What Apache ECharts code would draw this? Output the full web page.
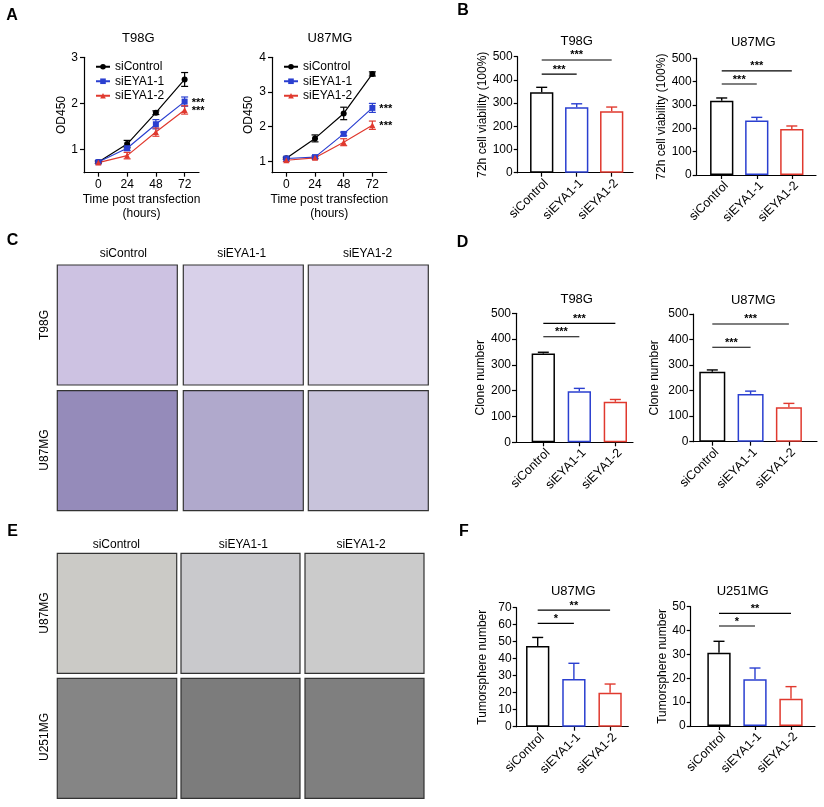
<!DOCTYPE html>
<html>
<head>
<meta charset="utf-8">
<script src="https://cdn.jsdelivr.net/npm/echarts@6/dist/echarts.min.js"></script>
<style>html,body{margin:0;padding:0;background:#fff;}#c{width:824px;height:807px;}</style>
</head>
<body>
<div id="c"></div>
<script>
// ---------- DATA ----------
const groups = ['siControl', 'siEYA1-1', 'siEYA1-2'];
const timeLabels = ['0', '24', '48', '72'];
// Panel A (OD450)
const aT98G_control = [0.73, 1.12, 1.80, 2.52];
const aT98G_controlErr = [0.03, 0.08, 0.04, 0.15];
const aT98G_eya1 = [0.73, 1.03, 1.55, 2.04];
const aT98G_eya1Err = [0.02, 0.05, 0.10, 0.10];
const aT98G_eya2 = [0.72, 0.87, 1.38, 1.86];
const aT98G_eya2Err = [0.02, 0.07, 0.09, 0.09];
const aU87_control = [1.09, 1.66, 2.38, 3.52];
const aU87_controlErr = [0.03, 0.10, 0.18, 0.06];
const aU87_eya1 = [1.08, 1.12, 1.79, 2.54];
const aU87_eya1Err = [0.03, 0.04, 0.05, 0.13];
const aU87_eya2 = [1.03, 1.10, 1.55, 2.04];
const aU87_eya2Err = [0.04, 0.03, 0.10, 0.12];
// Panel B (72h cell viability)
const bT98G = [347, 282, 265];
const bT98GErr = [21, 15, 18];
const bU87 = [318, 233, 197];
const bU87Err = [12, 14, 13];
// Panel D (clone number)
const dT98G = [344, 198, 157];
const dT98GErr = [5, 11, 9];
const dU87 = [274, 187, 135];
const dU87Err = [7, 11, 15];
// Panel F (tumorsphere number)
const fU87 = [47.5, 28, 20];
const fU87Err = [5, 9.3, 5.1];
const fU251 = [30.7, 19.6, 11.4];
const fU251Err = [4.8, 4.7, 5.1];
// significance brackets: [from, to, y, label]
const sigB1 = [[0, 2, 486, '***'], [0, 1, 425, '***']];
const sigB2 = [[0, 2, 446, '***'], [0, 1, 390, '***']];
const sigD1 = [[0, 2, 461, '***'], [0, 1, 409, '***']];
const sigD2 = [[0, 2, 461, '***'], [0, 1, 370, '***']];
const sigF1 = [[0, 2, 68.6, '**'], [0, 1, 60.8, '*']];
const sigF2 = [[0, 2, 47.2, '**'], [0, 1, 41.9, '*']];
// ---------- STYLE ----------
const FONT = 'Liberation Sans, Arial, sans-serif';
const colors = ['#000000', '#2a3fd0', '#e0392e'];
const symbols = ['circle', 'rect', 'triangle'];

const grids = [], xAxes = [], yAxes = [], series = [];
const axisLineStyle = { show: true, onZero: false, lineStyle: { color: '#000', width: 1.2 } };
const tickStyle = { show: true, length: 4, lineStyle: { color: '#000', width: 1.2 } };

function errLine(gi) {
  return {
    type: 'custom', xAxisIndex: gi, yAxisIndex: gi, clip: false, z: 3,
    renderItem: function (params, api) {
      const x = api.value(0), m = api.value(1), e = api.value(2);
      const c = api.visual('color');
      const pT = api.coord([x, m + e]), pB = api.coord([x, m - e]);
      const s = { stroke: c, lineWidth: 1.2 };
      return { type: 'group', children: [
        { type: 'line', shape: { x1: pT[0], y1: pT[1], x2: pB[0], y2: pB[1] }, style: s },
        { type: 'line', shape: { x1: pT[0] - 3.5, y1: pT[1], x2: pT[0] + 3.5, y2: pT[1] }, style: s },
        { type: 'line', shape: { x1: pB[0] - 3.5, y1: pB[1], x2: pB[0] + 3.5, y2: pB[1] }, style: s }
      ]};
    }
  };
}

function linePanel(gi, grid, yMin, yMax, yTicks, yNameGap, data, errs, stars) {
  grids.push(grid);
  xAxes.push({ gridIndex: gi, type: 'category', data: timeLabels, boundaryGap: true,
    axisLine: axisLineStyle, axisTick: Object.assign({ alignWithLabel: true }, tickStyle),
    axisLabel: { color: '#000', fontSize: 12, fontFamily: FONT, margin: 6 },
    name: 'Time post transfection\n(hours)', nameLocation: 'middle', nameGap: 20,
    nameTextStyle: { color: '#000', fontSize: 12, fontFamily: FONT, lineHeight: 14 } });
  yAxes.push({ gridIndex: gi, type: 'value', min: yMin, max: yMax, splitLine: { show: false },
    axisLine: axisLineStyle, axisTick: Object.assign({ customValues: yTicks }, tickStyle),
    axisLabel: { customValues: yTicks, color: '#000', fontSize: 12, fontFamily: FONT, margin: 6 },
    name: 'OD450', nameLocation: 'middle', nameGap: yNameGap,
    nameTextStyle: { color: '#000', fontSize: 12, fontFamily: FONT } });
  for (let k = 0; k < 3; k++) {
    series.push({ type: 'line', name: groups[k], xAxisIndex: gi, yAxisIndex: gi, data: data[k],
      symbol: symbols[k], symbolSize: 6, color: colors[k], z: 4,
      lineStyle: { width: 1.2, color: colors[k] }, itemStyle: { color: colors[k] } });
    const e = errLine(gi);
    e.color = colors[k];
    e.itemStyle = { color: colors[k] };
    e.data = data[k].map((v, i) => [i, v, errs[k][i]]);
    series.push(e);
  }
  series.push({
    type: 'custom', xAxisIndex: gi, yAxisIndex: gi, clip: false, z: 5,
    data: stars,
    renderItem: function (params, api) {
      const p = api.coord([api.value(0), api.value(1)]);
      return { type: 'text', x: p[0] + 7, y: p[1] + 1,
        style: { text: '***', font: 'bold 11px ' + FONT, fill: '#000',
          align: 'left', textAlign: 'left', verticalAlign: 'middle', textVerticalAlign: 'middle' } };
    }
  });
}

function barPanel(gi, grid, xMin, xMax, barW, yMax, yInterval, yName, yNameGap, means, errs, sig) {
  grids.push(grid);
  xAxes.push({ gridIndex: gi, type: 'value', min: xMin, max: xMax, splitLine: { show: false },
    axisLine: axisLineStyle, axisTick: Object.assign({ customValues: [0, 1, 2] }, tickStyle),
    axisLabel: { customValues: [0, 1, 2], formatter: v => groups[Math.round(v)], rotate: 45,
      verticalAlign: 'top', color: '#000', fontSize: 12.5, fontFamily: FONT, margin: 4 } });
  yAxes.push({ gridIndex: gi, type: 'value', min: 0, max: yMax, interval: yInterval, splitLine: { show: false },
    axisLine: axisLineStyle, axisTick: tickStyle,
    axisLabel: { color: '#000', fontSize: 12, fontFamily: FONT, margin: 5 },
    name: yName, nameLocation: 'middle', nameGap: yNameGap,
    nameTextStyle: { color: '#000', fontSize: 12, fontFamily: FONT } });
  series.push({ type: 'bar', xAxisIndex: gi, yAxisIndex: gi, barWidth: barW, z: 2,
    data: means.map((m, i) => ({ value: [i, m], itemStyle: { color: '#fff', borderColor: colors[i], borderWidth: 1.5 } })) });
  series.push({ type: 'custom', xAxisIndex: gi, yAxisIndex: gi, clip: false, z: 3,
    data: means.map((m, i) => [i, m, errs[i]]),
    renderItem: function (params, api) {
      const x = api.value(0), m = api.value(1), e = api.value(2);
      const p0 = api.coord([x, m]), p1 = api.coord([x, m + e]);
      const s = { stroke: colors[params.dataIndex], lineWidth: 1.4 };
      return { type: 'group', children: [
        { type: 'line', shape: { x1: p0[0], y1: p0[1], x2: p1[0], y2: p1[1] }, style: s },
        { type: 'line', shape: { x1: p1[0] - 5.5, y1: p1[1], x2: p1[0] + 5.5, y2: p1[1] }, style: s }
      ]};
    } });
  series.push({ type: 'custom', xAxisIndex: gi, yAxisIndex: gi, clip: false, z: 3,
    encode: { x: [0, 1], y: 2 },
    data: sig.map(s => [s[0], s[1], s[2]]),
    renderItem: function (params, api) {
      const a = api.coord([api.value(0), api.value(2)]);
      const b = api.coord([api.value(1), api.value(2)]);
      return { type: 'group', children: [
        { type: 'line', shape: { x1: a[0], y1: a[1], x2: b[0], y2: b[1] }, style: { stroke: '#000', lineWidth: 1.1 } },
        { type: 'text', x: (a[0] + b[0]) / 2, y: a[1] + 1,
          style: { text: sig[params.dataIndex][3], font: 'bold 11px ' + FONT, fill: '#000',
            align: 'center', textAlign: 'center', verticalAlign: 'bottom', textVerticalAlign: 'bottom' } }
      ]};
    } });
}

linePanel(0, { left: 84, top: 57.3, width: 115, height: 115.4 }, 0.5, 3, [1, 2, 3], 15,
  [aT98G_control, aT98G_eya1, aT98G_eya2], [aT98G_controlErr, aT98G_eya1Err, aT98G_eya2Err],
  [[3, aT98G_eya1[3]], [3, aT98G_eya2[3]]]);
linePanel(1, { left: 272, top: 57.3, width: 114.7, height: 115.4 }, 0.67, 4, [1, 2, 3, 4], 17,
  [aU87_control, aU87_eya1, aU87_eya2], [aU87_controlErr, aU87_eya1Err, aU87_eya2Err],
  [[3, aU87_eya1[3]], [3, aU87_eya2[3]]]);
barPanel(2, { left: 517.7, top: 56.7, width: 115.3, height: 116 }, -0.686, 2.609, 23.3, 500, 100,
  '72h cell viability (100%)', 29, bT98G, bT98GErr, sigB1);
barPanel(3, { left: 696.7, top: 58.3, width: 119.3, height: 116.7 }, -0.714, 2.69, 23.3, 500, 100,
  '72h cell viability (100%)', 28, bU87, bU87Err, sigB2);
barPanel(4, { left: 516, top: 313.3, width: 117, height: 129 }, -0.758, 2.49, 23.3, 500, 100,
  'Clone number', 26, dT98G, dT98GErr, sigD1);
barPanel(5, { left: 693.3, top: 314, width: 123.7, height: 127.7 }, -0.496, 2.734, 26, 500, 100,
  'Clone number', 33, dU87, dU87Err, sigD2);
barPanel(6, { left: 516.7, top: 607.7, width: 111.6, height: 119 }, -0.58, 2.503, 23.3, 70, 10,
  'Tumorsphere number', 28, fU87, fU87Err, sigF1);
barPanel(7, { left: 690.7, top: 606.7, width: 124.3, height: 119.3 }, -0.786, 2.667, 23.3, 50, 10,
  'Tumorsphere number', 22, fU251, fU251Err, sigF2);

// ---------- TEXT / IMAGE PLACEHOLDERS ----------
const g = [];
function txt(x, y, text, size, bold, rot) {
  g.push({ type: 'text', x: x, y: y, rotation: rot || 0,
    style: { text: text, font: (bold ? 'bold ' : '') + size + 'px ' + FONT, fill: '#000',
      align: 'center', textAlign: 'center', verticalAlign: 'middle', textVerticalAlign: 'middle' } });
}
[['A', 12, 16], ['B', 463, 11], ['C', 12.5, 241], ['D', 462.5, 242.5], ['E', 12.5, 532], ['F', 464, 532]]
  .forEach(l => txt(l[1], l[2], l[0], 16, true));
// chart titles
[['T98G', 138.3, 38.3], ['U87MG', 330, 38.3], ['T98G', 576.7, 41.5], ['U87MG', 753.3, 42],
 ['T98G', 576.7, 299.3], ['U87MG', 753.3, 300], ['U87MG', 573.3, 591.7], ['U251MG', 742.7, 591.7]]
  .forEach(t => txt(t[1], t[2], t[0], 13, false));
// panel C / E headers and row labels
[[123.3, 254], [241.7, 254], [367.5, 254]].forEach((p, i) => txt(p[0], p[1], groups[i], 12, false));
[[116.3, 545], [243.3, 545], [361, 545]].forEach((p, i) => txt(p[0], p[1], groups[i], 12, false));
txt(45, 325, 'T98G', 12, false, Math.PI / 2);
txt(45, 450, 'U87MG', 12, false, Math.PI / 2);
txt(45, 613, 'U87MG', 12, false, Math.PI / 2);
txt(45, 737, 'U251MG', 12, false, Math.PI / 2);
// microscopy image placeholders (flat average tones)
const cCols = [57.3, 183.3, 308.3], cRows = [265, 390.7];
const cFills = [['#cdc2e2', '#d8d0e9', '#dcd6ea'], ['#958bba', '#b0a9cc', '#c8c3db']];
const eCols = [[57.3, 119.4], [181, 119], [305, 119]], eRows = [553.3, 678.3];
const eFills = [['#cbcac6', '#c9c9cc', '#cbcbcb'], ['#858585', '#7c7c7c', '#7f7f7f']];
cRows.forEach((y, r) => cCols.forEach((x, c) => g.push({ type: 'rect',
  shape: { x: x, y: y, width: 120, height: 120 }, style: { fill: cFills[r][c], stroke: '#333', lineWidth: 1.2 } })));
eRows.forEach((y, r) => eCols.forEach((x, c) => g.push({ type: 'rect',
  shape: { x: x[0], y: y, width: x[1], height: 120 }, style: { fill: eFills[r][c], stroke: '#333', lineWidth: 1.2 } })));

const chart = echarts.init(document.getElementById('c'), null, { renderer: 'canvas' });
chart.setOption({
  animation: false,
  backgroundColor: '#fff',
  textStyle: { fontFamily: FONT },
  grid: grids,
  xAxis: xAxes,
  yAxis: yAxes,
  legend: [
    { left: 90, top: 55, orient: 'vertical', itemGap: 1, itemWidth: 14, itemHeight: 7, selectedMode: false,
      data: groups, textStyle: { fontSize: 12, color: '#000', fontFamily: FONT, lineHeight: 13.5 } },
    { left: 278, top: 55, orient: 'vertical', itemGap: 1, itemWidth: 14, itemHeight: 7, selectedMode: false,
      data: groups, textStyle: { fontSize: 12, color: '#000', fontFamily: FONT, lineHeight: 13.5 } }
  ],
  graphic: g,
  series: series
});
</script>
</body>
</html>
